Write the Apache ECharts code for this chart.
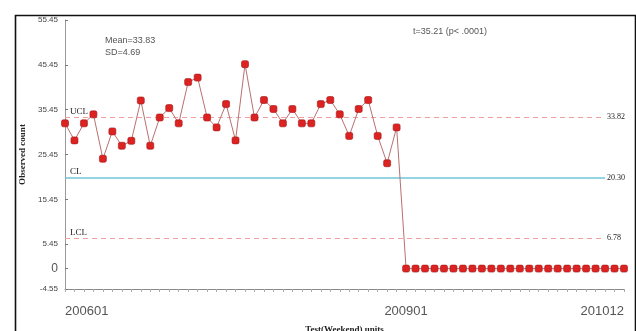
<!DOCTYPE html>
<html>
<head>
<meta charset="utf-8">
<script src="https://cdn.jsdelivr.net/npm/echarts@6/dist/echarts.min.js"></script>
<style>
  html, body { margin: 0; padding: 0; background: #fff; }
  #chart { width: 636px; height: 331px; }
</style>
</head>
<body>
<div id="chart"></div>
<script>
// Monthly periods, January 2006 through December 2010
const months = [];
for (let y = 2006; y <= 2010; y++) {
  for (let m = 1; m <= 12; m++) months.push(String(y) + (m < 10 ? '0' : '') + m);
}

// Observed counts per month
const counts2006to2008 = [
  32.4, 28.6, 32.4, 34.4, 24.5, 30.6, 27.4, 28.5, 37.5, 27.4, 33.7, 35.8,
  32.4, 41.6, 42.6, 33.7, 31.5, 36.7, 28.6, 45.6, 33.7, 37.6, 35.6, 32.4,
  35.6, 32.4, 32.4, 36.7, 37.6, 34.4, 29.6, 35.6, 37.6, 29.6, 23.5, 31.5
];
const counts2009to2010 = [
  0, 0, 0, 0, 0, 0, 0, 0, 0, 0, 0, 0,
  0, 0, 0, 0, 0, 0, 0, 0, 0, 0, 0, 0
];
const observed = counts2006to2008.concat(counts2009to2010);

// Control limits
const controlLimits = { UCL: 33.82, CL: 20.30, LCL: 6.78 };

// Axis tick values and labelled months
const yTicks = [-4.55, 0, 5.45, 15.45, 25.45, 35.45, 45.45, 55.45];
const labelledMonths = ['200601', '200901', '201012'];

const limitEndMonth = months[57];

// Each limit: a visible line named at its start, plus a transparent twin carrying the value at its end
function limitLine(name, value, style) {
  return [
    [
      { name: name, xAxis: months[0], yAxis: value,
        lineStyle: style,
        label: { show: true, position: 'insideStartTop', formatter: name, distance: [5, 1],
                 fontFamily: 'Liberation Serif', fontSize: 9, color: '#222' } },
      { xAxis: limitEndMonth, yAxis: value }
    ],
    [
      { xAxis: months[0], yAxis: value,
        lineStyle: { color: 'rgba(255,255,255,0)', type: 'solid', width: 1 },
        label: { show: true, position: 'end', formatter: value.toFixed(2), distance: 2,
                 fontFamily: 'Liberation Serif', fontSize: 8, color: '#222' } },
      { xAxis: limitEndMonth, yAxis: value }
    ]
  ];
}

const dashed = { color: '#eea0a0', type: [5, 4], width: 1 };
const solidCL = { color: '#6fc6d6', type: 'solid', width: 1.5 };

const chart = echarts.init(document.getElementById('chart'), null, { renderer: 'canvas' });

chart.setOption({
  animation: false,
  backgroundColor: '#ffffff',
  grid: { left: 65, right: 12, top: 20, bottom: 42, outerBoundsMode: 'none', containLabel: false },
  graphic: [
    { type: 'rect', left: 13, top: 13, z: 100, silent: true,
      shape: { width: 620, height: 330 },
      style: { fill: 'none', stroke: '#111', lineWidth: 1.6 } },
    { type: 'text', left: 105, top: 35, style: { text: 'Mean=33.83\nSD=4.69', fill: '#555', font: '9px "Liberation Sans"', lineHeight: 12 } },
    { type: 'text', left: 413, top: 27, style: { text: 't=35.21 (p< .0001)', fill: '#555', font: '9px "Liberation Sans"' } }
  ],
  xAxis: {
    type: 'category',
    data: months,
    boundaryGap: false,
    name: 'Test(Weekend) units',
    nameLocation: 'middle',
    nameGap: 36,
    nameTextStyle: { fontFamily: 'Liberation Serif', fontSize: 9, fontWeight: 'bold', color: '#222' },
    axisLine: { onZero: false, lineStyle: { color: '#8a8a8a', width: 1 } },
    axisTick: { show: true, interval: 0, length: 3, lineStyle: { color: '#aaa' } },
    axisLabel: {
      interval: (idx, val) => labelledMonths.indexOf(val) >= 0,
      alignMinLabel: 'left',
      alignMaxLabel: 'right',
      margin: 16,
      fontFamily: 'Liberation Sans',
      fontSize: 13,
      color: '#555'
    },
    splitLine: { show: false }
  },
  yAxis: {
    type: 'value',
    min: -4.55,
    max: 55.45,
    name: 'Observed count',
    nameLocation: 'middle',
    nameGap: 38,
    nameTextStyle: { fontFamily: 'Liberation Serif', fontSize: 9, fontWeight: 'bold', color: '#222' },
    axisLine: { show: true, lineStyle: { color: '#999', width: 1 } },
    axisTick: { show: true, inside: true, length: 3, customValues: yTicks, lineStyle: { color: '#777' } },
    axisLabel: {
      customValues: yTicks,
      margin: 7,
      formatter: v => (Math.abs(v) < 1e-9 ? '{z|0}' : '{s|' + v.toFixed(2) + '}'),
      rich: {
        z: { fontFamily: 'Liberation Sans', fontSize: 12, color: '#555' },
        s: { fontFamily: 'Liberation Sans', fontSize: 8, color: '#444' }
      }
    },
    splitLine: { show: false }
  },
  series: [{
    type: 'line',
    data: observed,
    symbol: 'roundRect',
    symbolSize: 7,
    showSymbol: true,
    showAllSymbol: true,
    itemStyle: { color: '#dd2222', borderColor: '#a31515', borderWidth: 0.6 },
    lineStyle: { color: '#b97070', width: 1 },
    z: 5,
    markLine: {
      silent: true,
      symbol: 'none',
      z: 2,
      data: [].concat(
        limitLine('UCL', controlLimits.UCL, dashed),
        limitLine('CL', controlLimits.CL, solidCL),
        limitLine('LCL', controlLimits.LCL, dashed)
      )
    }
  }]
});
</script>
</body>
</html>
